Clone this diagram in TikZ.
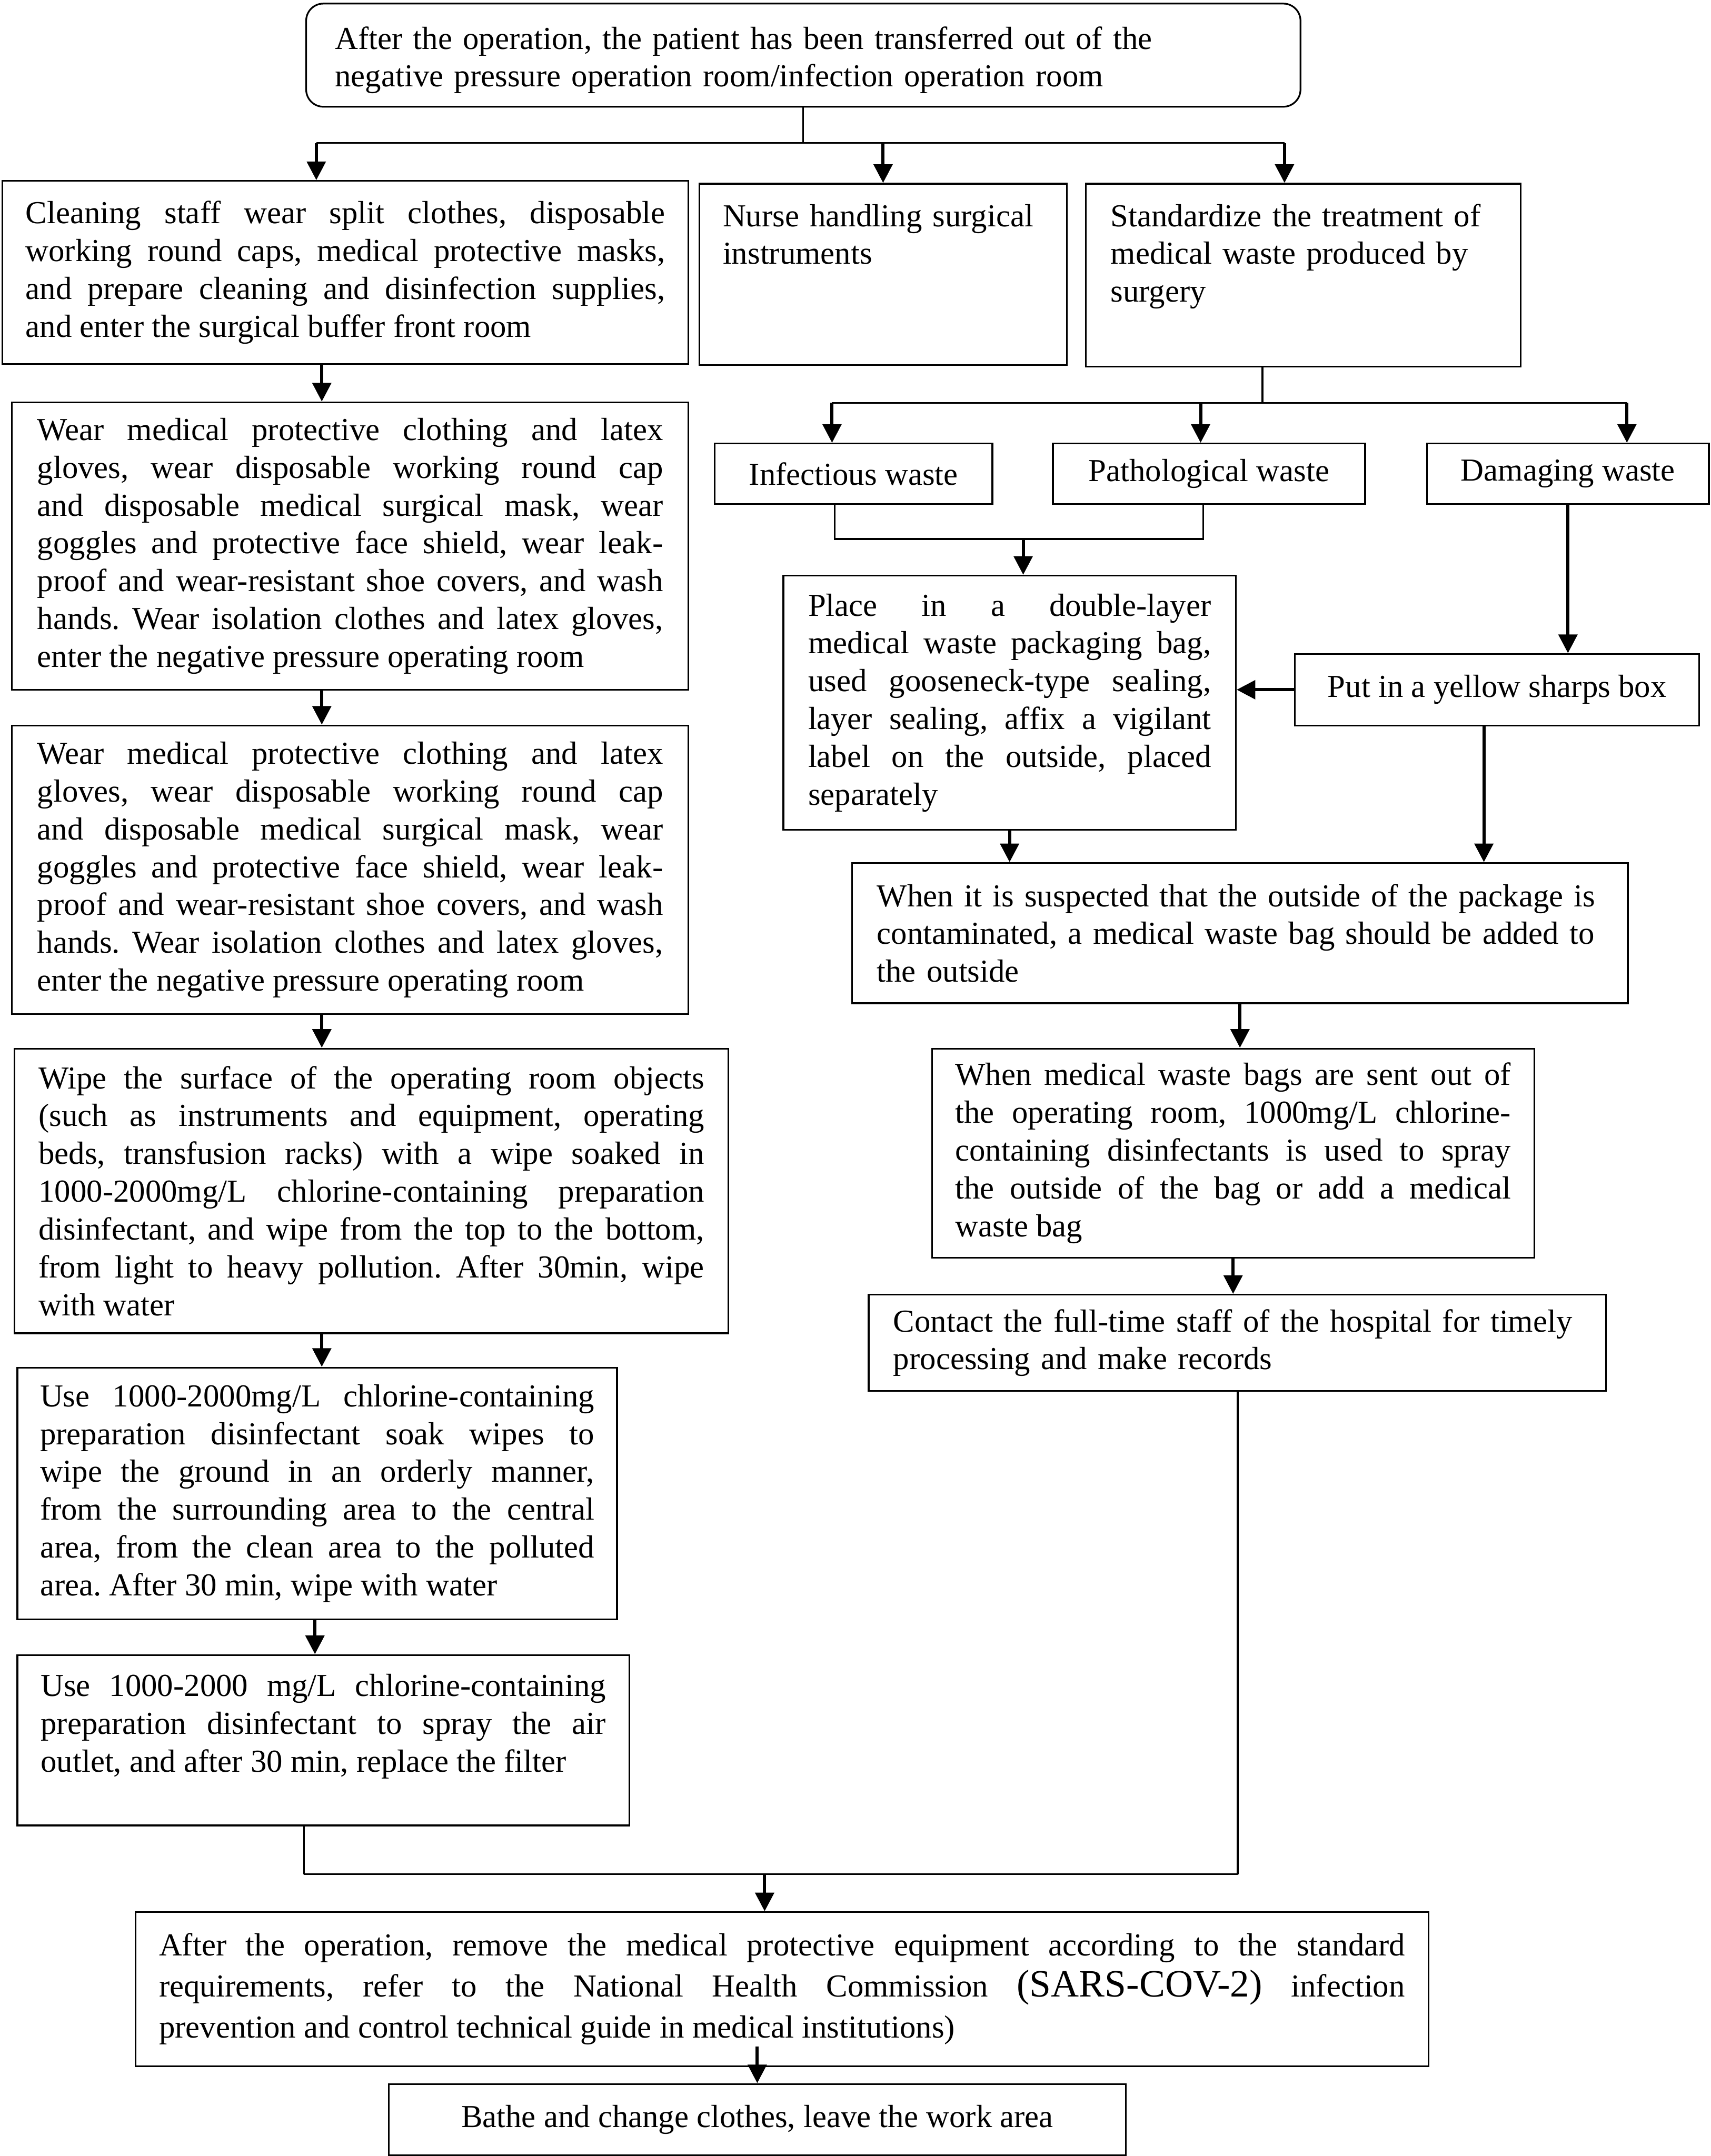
\documentclass[tikz,border=0pt]{standalone}
\usepackage{fontspec}
\setmainfont{Liberation Serif}
\usetikzlibrary{arrows.meta}

% Word-like justification: spaces stretch, hardly shrink
\newcommand\spacing{\frenchspacing
    \spaceskip=\fontdimen2\font plus 3\fontdimen2\font minus 0.2\fontdimen2\font
    \hyphenpenalty=10000 \tolerance=9999 }
\newcommand\boxfont{\fontsize{13.25pt}{15.65pt}\selectfont\spacing}
\newcommand\wideboxfont{\fontsize{13.25pt}{17pt}\selectfont\spacing}

\begin{document}
\begin{tikzpicture}[
    x=0.2mm, y=-0.2mm,
    >={Triangle[length=7.7pt,width=7.7pt]},
    procbox/.style={
        draw,
        line width=0.7pt,
        anchor=north west,
        font=\boxfont,
        inner xsep=0pt,
        inner ysep=0pt,
        align=justify
    },
    listbox/.style={
        procbox,
        align=left
    },
    labelbox/.style={
        procbox,
        align=center
    },
    flow/.style={
        ->,
        line width=1.3pt
    },
    link/.style={
        line width=0.7pt
    }
]

\useasboundingbox (0,0) rectangle (1244,1568);

% ==================================================
% Start
% ==================================================

\node[listbox, rounded corners=2.5mm, text width=136.2mm,
      minimum width=144.6mm, text height=6.6mm, text depth=8.4mm] (top)
    at (222,2)
    {After the operation, the patient has been transferred out of the\\
     negative pressure operation room/infection operation room};

\node[procbox, text width=93mm, minimum width=99.8mm,
      minimum height=26.6mm] (clean) at (1,131)
    {Cleaning staff wear split clothes, disposable\linebreak working round
     caps, medical protective masks,\linebreak and prepare cleaning and
     disinfection supplies,\linebreak and enter the surgical buffer front
     room};

\node[listbox, text width=46.6mm, minimum width=53.4mm,
      text height=6.2mm, text depth=20.2mm] (nurse) at (508,133)
    {Nurse handling surgical\\ instruments};

\node[listbox, text width=56mm, minimum width=63.2mm,
      text height=6.2mm, text depth=20.4mm] (std) at (789,133)
    {Standardize the treatment of\\ medical waste produced by\\ surgery};

% ==================================================
% Cleaning of the operating room
% ==================================================

\node[procbox, text width=91mm, minimum width=98.4mm,
      minimum height=41.8mm] (protA) at (8,292)
    {Wear medical protective clothing and latex\linebreak gloves, wear
     disposable working round cap\linebreak and disposable medical
     surgical mask, wear\linebreak goggles and protective face shield,
     wear leak-\linebreak proof and wear-resistant shoe covers, and
     wash\linebreak hands. Wear isolation clothes and latex
     gloves,\linebreak enter the negative pressure operating room};

\node[procbox, text width=91mm, minimum width=98.4mm,
      minimum height=42mm] (protB) at (8,527)
    {Wear medical protective clothing and latex\linebreak gloves, wear
     disposable working round cap\linebreak and disposable medical
     surgical mask, wear\linebreak goggles and protective face shield,
     wear leak-\linebreak proof and wear-resistant shoe covers, and
     wash\linebreak hands. Wear isolation clothes and latex
     gloves,\linebreak enter the negative pressure operating room};

\node[procbox, text width=96.8mm, minimum width=103.8mm,
      minimum height=41.4mm] (wipeobj) at (10,762)
    {Wipe the surface of the operating room objects\linebreak (such as
     instruments and equipment, operating\linebreak beds, transfusion
     racks) with a wipe soaked in\linebreak 1000-2000mg/L
     chlorine-containing preparation\linebreak disinfectant, and wipe from
     the top to the bottom,\linebreak from light to heavy pollution. After
     30min, wipe\linebreak with water};

\node[procbox, text width=80.6mm, minimum width=87.2mm,
      minimum height=36.6mm] (wipefloor) at (12,994)
    {Use 1000-2000mg/L chlorine-containing\linebreak preparation
     disinfectant soak wipes to\linebreak wipe the ground in an orderly
     manner,\linebreak from the surrounding area to the central\linebreak
     area, from the clean area to the polluted\linebreak area. After 30
     min, wipe with water};

\node[procbox, text width=82.2mm, minimum width=89mm,
      text height=6mm, text depth=18.8mm] (sprayair) at (12,1203)
    {Use 1000-2000 mg/L chlorine-containing\linebreak preparation
     disinfectant to spray the air\linebreak outlet, and after 30 min,
     replace the filter};

% ==================================================
% Medical waste
% ==================================================

\node[labelbox, minimum width=40.4mm, minimum height=8.8mm] (inf)
    at (519,322) {Infectious waste};
\node[labelbox, minimum width=45.4mm, minimum height=8.8mm] (path)
    at (765,322) {Pathological waste};
\node[labelbox, minimum width=41mm, minimum height=8.8mm] (dmg)
    at (1037,322) {Damaging waste};

\node[procbox, text width=58.6mm, minimum width=65.8mm,
      minimum height=37mm] (place) at (569,418)
    {Place in a double-layer\linebreak medical waste packaging
     bag,\linebreak used gooseneck-type sealing,\linebreak layer sealing,
     affix a vigilant\linebreak label on the outside, placed\linebreak
     separately};

\node[labelbox, minimum width=58.8mm, minimum height=10.4mm] (sharps)
    at (941,475) {Put in a yellow sharps box};

\node[listbox, text width=105.6mm, minimum width=112.8mm,
      minimum height=20.4mm] (susp) at (619,627)
    {When it is suspected that the outside of the package is\\
     contaminated, a medical waste bag should be added to\\
     the outside};

\node[procbox, text width=80.8mm, minimum width=87.6mm,
      minimum height=30.4mm] (bags) at (677,762)
    {When medical waste bags are sent out of\linebreak the operating room,
     1000mg/L chlorine-\linebreak containing disinfectants is used to
     spray\linebreak the outside of the bag or add a medical\linebreak
     waste bag};

\node[listbox, text width=100mm, minimum width=107.2mm,
      minimum height=14mm] (contact) at (631,941)
    {Contact the full-time staff of the hospital for timely\\
     processing and make records};

% ==================================================
% End
% ==================================================

\node[procbox, font=\wideboxfont, text width=181.2mm, minimum width=188mm,
      minimum height=22.4mm] (remove) at (98,1390)
    {After the operation, remove the medical protective equipment
     according to the standard\linebreak requirements, refer to the
     National Health Commission
     {\fontsize{16pt}{17pt}\selectfont(SARS-COV-2)} infection\linebreak
     prevention and control technical guide in medical institutions)};

\node[labelbox, minimum width=107.2mm, minimum height=10.4mm] (bathe)
    at (282,1515) {Bathe and change clothes, leave the work area};

% ==================================================
% Connectors
% ==================================================

% top box to the three branches
\coordinate (topbusL) at (230,104);
\coordinate (topbusR) at (934,104);
\draw[link] (top.south) -- (top.south |- topbusL);
\draw[link] (topbusL) -- (topbusR);
\draw[flow] (topbusL) -- (topbusL |- clean.north);
\draw[flow] (nurse.north |- topbusL) -- (nurse.north);
\draw[flow] (topbusR) -- (topbusR |- std.north);

% left column
\coordinate (leftaxis) at (234,0);
\draw[flow] (clean.south -| leftaxis) -- (protA.north -| leftaxis);
\draw[flow] (protA.south -| leftaxis) -- (protB.north -| leftaxis);
\draw[flow] (protB.south -| leftaxis) -- (wipeobj.north -| leftaxis);
\draw[flow] (wipeobj.south -| leftaxis) -- (wipefloor.north -| leftaxis);
\coordinate (spraxis) at (229,0);
\draw[flow] (wipefloor.south -| spraxis) -- (sprayair.north -| spraxis);

% waste types
\coordinate (wastestem) at (918,293);
\coordinate (wastebusL) at (605,293);
\coordinate (wastebusM) at (873,293);
\coordinate (wastebusR) at (1183,293);
\draw[link] (std.south -| wastestem) -- (wastestem);
\draw[link] (wastebusL) -- (wastebusR);
\draw[flow] (wastebusL) -- (wastebusL |- inf.north);
\draw[flow] (wastebusM) -- (wastebusM |- path.north);
\draw[flow] (wastebusR) -- (wastebusR |- dmg.north);

% infectious and pathological waste join
\coordinate (bagbusL) at (607,392);
\coordinate (bagbusM) at (744,392);
\coordinate (bagbusR) at (875,392);
\draw[link] (inf.south -| bagbusL) -- (bagbusL) -- (bagbusR)
    -- (path.south -| bagbusR);
\draw[flow] (bagbusM) -- (bagbusM |- place.north);

% sharps
\draw[flow] (dmg.south) -- (dmg.south |- sharps.north);
\draw[flow] (sharps.west) -- (sharps.west -| place.east);
\coordinate (sharpsaxis) at (1079,0);
\draw[flow] (sharps.south -| sharpsaxis) -- (susp.north -| sharpsaxis);

% right column
\draw[flow] (place.south) -- (place.south |- susp.north);
\draw[flow] (susp.south) -- (susp.south |- bags.north);
\draw[flow] (bags.south) -- (bags.south |- contact.north);

% both columns join
\coordinate (joinL) at (221,1363);
\coordinate (joinM) at (556,1363);
\coordinate (joinR) at (900,1363);
\draw[link] (sprayair.south -| joinL) -- (joinL);
\draw[link] (contact.south -| joinR) -- (joinR);
\draw[link] (joinL) -- (joinR);
\draw[flow] (joinM) -- (joinM |- remove.north);
\draw[flow] (bathe.north |- remove.south) ++(0,-15) -- (bathe.north);

\end{tikzpicture}
\end{document}
